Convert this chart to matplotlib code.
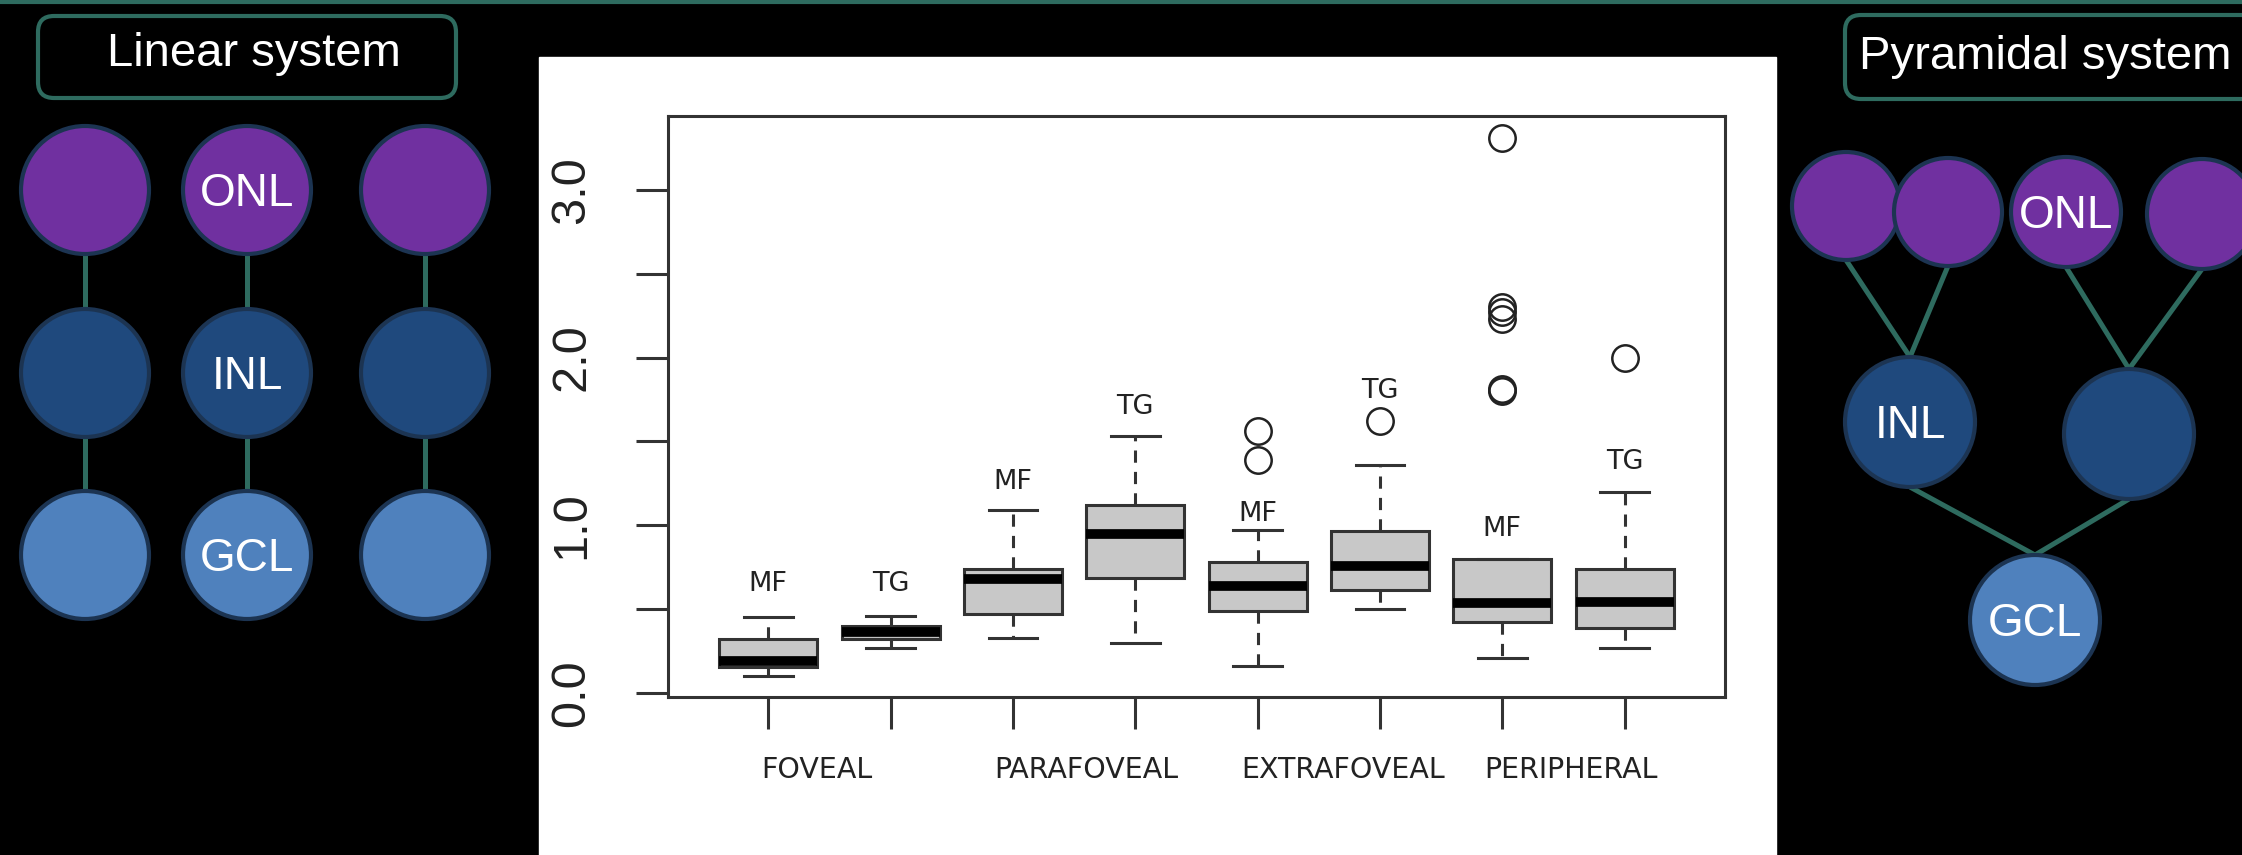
import matplotlib.pyplot as plt
from matplotlib.patches import Circle, FancyBboxPatch, Rectangle

# values (one entry per box, left to right)
tags = ['MF', 'TG', 'MF', 'TG', 'MF', 'TG', 'MF', 'TG']
regions = ['FOVEAL', 'PARAFOVEAL', 'EXTRAFOVEAL', 'PERIPHERAL']
whis_lo = [0.10, 0.27, 0.33, 0.30, 0.16, 0.50, 0.21, 0.27]
q1 = [0.155, 0.32, 0.47, 0.685, 0.49, 0.615, 0.425, 0.385]
medians = [0.19, 0.365, 0.68, 0.95, 0.635, 0.755, 0.535, 0.545]
q3 = [0.32, 0.40, 0.74, 1.12, 0.78, 0.965, 0.80, 0.74]
whis_hi = [0.455, 0.46, 1.09, 1.53, 0.97, 1.36, 0.80, 1.20]
outliers = [[], [], [], [], [1.39, 1.56], [1.62],
            [1.80, 1.81, 2.23, 2.27, 2.30, 3.31], [2.00]]
yticks = [0.0, 0.5, 1.0, 1.5, 2.0, 2.5, 3.0]
ytick_labels = ['0.0', '', '1.0', '', '2.0', '', '3.0']

# layout
tag_y = [0.65, 0.65, 1.255, 1.705, 1.07, 1.80, 0.975, 1.38]
region_x = [1.40, 3.60, 5.70, 7.56]

layer_names = ['ONL', 'INL', 'GCL']
layer_colors = ['#7030a0', '#1f497d', '#4f81bd']
teal = '#2e6b5f'
edge = '#1c3452'

fig = plt.figure(figsize=(22.42, 8.55), dpi=100, facecolor='black')

# background / diagrams in pixel coords
bg = fig.add_axes([0, 0, 1, 1])
bg.set_xlim(0, 2242)
bg.set_ylim(855, 0)
bg.axis('off')
bg.add_patch(Rectangle((539, 57), 1237, 800, color='white', zorder=0))
bg.plot([0, 2242], [2, 2], color=teal, lw=3, solid_capstyle='butt', zorder=1)


def node(x, y, r, color, label=None):
    bg.add_patch(Circle((x, y), r, facecolor=color, edgecolor=edge, lw=3, zorder=3))
    if label:
        bg.text(x, y + 16, label, color='white', ha='center', va='baseline',
                fontsize=33, family='Liberation Sans', zorder=4)


def link(a, b):
    bg.plot([a[0], b[0]], [a[1] + a[2], b[1] - b[2]], color=teal, lw=3.6,
            solid_capstyle='butt', zorder=2)


def title_box(x, y, w, h, text, tx, base):
    bg.add_patch(FancyBboxPatch((x, y), w, h, boxstyle='round,pad=0,rounding_size=16',
                                facecolor='black', edgecolor=teal, lw=3, zorder=2))
    bg.text(tx, base, text, color='white', ha='center', va='baseline',
            fontsize=34, family='Liberation Sans', zorder=3)


# linear system
title_box(38, 16, 418, 82, 'Linear system', 254, 66)
cols = [85, 247, 425]
rows = [190, 373, 555]
for j, cx in enumerate(cols):
    for i, cy in enumerate(rows):
        node(cx, cy, 64, layer_colors[i], layer_names[i] if j == 1 else None)
        if i < 2:
            link((cx, cy, 64), (cx, rows[i + 1], 64))

# pyramidal system
title_box(1845, 15, 440, 84, 'Pyramidal system', 2045, 69)
top = [(1846, 206, 54), (1948, 212, 54), (2066, 212, 55), (2202, 214, 55)]
mid = [(1910, 422, 65), (2129, 434, 65)]
gcl = (2035, 620, 65)
for k, t in enumerate(top):
    link(t, mid[k // 2])
for m in mid:
    link(m, gcl)
for k, t in enumerate(top):
    node(t[0], t[1], t[2], layer_colors[0], 'ONL' if k == 2 else None)
node(mid[0][0], mid[0][1], mid[0][2], layer_colors[1], 'INL')
node(mid[1][0], mid[1][1], mid[1][2], layer_colors[1])
node(gcl[0], gcl[1], gcl[2], layer_colors[2], 'GCL')

# boxplot
ax = fig.add_axes([668 / 2242, 1 - 697 / 855, (1725 - 668) / 2242, (697 - 116) / 855])
ax.set_facecolor('white')
stats = [dict(whislo=whis_lo[i], q1=q1[i], med=medians[i], q3=q3[i],
              whishi=whis_hi[i], fliers=outliers[i]) for i in range(len(tags))]
ax.bxp(stats, positions=range(1, len(tags) + 1), widths=0.8, capwidths=0.4,
       patch_artist=True,
       boxprops=dict(facecolor='#c8c8c8', edgecolor='#333333', linewidth=2.2),
       medianprops=dict(color='black', linewidth=7, solid_capstyle='butt'),
       whiskerprops=dict(color='#333333', linewidth=2.2, linestyle=(0, (4, 3))),
       capprops=dict(color='#333333', linewidth=2.2),
       flierprops=dict(marker='o', markersize=19, markerfacecolor='none',
                       markeredgecolor='#222222', markeredgewidth=1.8))
ax.set_xlim(0.18, 8.82)
ax.set_ylim(-0.024, 3.44)
ax.set_xticks(range(1, len(tags) + 1))
ax.set_xticklabels([])
ax.set_yticks(yticks)
ax.set_yticklabels(ytick_labels, rotation=90, va='center', fontsize=35,
                   family='Liberation Sans', color='#222222')
ax.tick_params(length=23, width=2.2, color='#333333', pad=30)
for s in ax.spines.values():
    s.set_linewidth(2.2)
    s.set_color('#333333')

for i, t in enumerate(tags):
    ax.text(i + 1, tag_y[i], t, ha='center', va='center', fontsize=19.5, color='#222222')
for x, name in zip(region_x, regions):
    ax.text(x, -0.126, name, transform=ax.get_xaxis_transform(), ha='center',
            va='center', fontsize=20.5, color='#222222')

fig.savefig('out.png', dpi=100, facecolor='black')
